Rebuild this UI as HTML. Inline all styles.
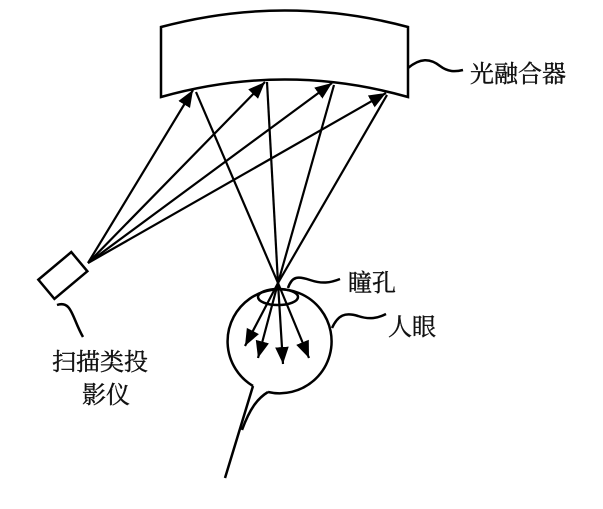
<!DOCTYPE html>
<html><head><meta charset="utf-8"><style>
body{margin:0;background:#fff;width:603px;height:504px;overflow:hidden}
text{font-family:"Liberation Serif","Noto Serif CJK SC",serif;font-size:24px;fill:#111;stroke:#111;stroke-width:0.4}
</style></head><body>
<svg width="603" height="504" viewBox="0 0 603 504">
<defs>
<marker id="b" viewBox="0 0 10 10" refX="10" refY="5" markerWidth="17" markerHeight="17" orient="auto" markerUnits="userSpaceOnUse"><path d="M0,1L10,5L0,9z" fill="#000"/></marker></defs>
<g fill="none" stroke="#000" stroke-width="2.5">
<path d="M161,27 Q285,-6 408,27 L408,97 Q285,62 161,97 Z"/>
<path d="M408,68 C420,58 430,58 440,66 C448,72 455,72 463,70"/>
<rect x="45" y="262" width="43" height="25" transform="rotate(-40 66 280)"/>
<path d="M57,305 C72,300 72,318 83,337"/>
<path d="M268,392 A52,52 0 1 0 253,386"/>
<ellipse cx="278" cy="297" rx="20" ry="8"/>
<path d="M288,288 C292,276 298,276 310,280 C322,284 330,283 340,279"/>
<path d="M332,328 C338,315 345,312 358,316 C370,320 378,318 386,314"/>
<path d="M253,386 L225,478 M268,392 C258,398 250,408 242,430"/>
<g stroke-width="2.2">
<line x1="88" y1="263" x2="193" y2="90" marker-end="url(#b)"/>
<line x1="88" y1="263" x2="265" y2="82" marker-end="url(#b)"/>
<line x1="88" y1="263" x2="332" y2="83" marker-end="url(#b)"/>
<line x1="88" y1="263" x2="386" y2="93" marker-end="url(#b)"/>
<line x1="196" y1="92" x2="278" y2="283"/>
<line x1="267" y1="82" x2="278" y2="283"/>
<line x1="334" y1="85" x2="278" y2="283"/>
<line x1="387" y1="95" x2="278" y2="283"/>
<line x1="278" y1="283" x2="245" y2="346" marker-end="url(#b)"/>
<line x1="278" y1="283" x2="258" y2="358" marker-end="url(#b)"/>
<line x1="278" y1="283" x2="283" y2="364" marker-end="url(#b)"/>
<line x1="278" y1="283" x2="309" y2="358" marker-end="url(#b)"/>
</g></g>
<text x="470" y="82">光融合器</text>
<text x="348" y="291">瞳孔</text>
<text x="388" y="335">人眼</text>
<text x="52" y="370">扫描类投</text>
<text x="82" y="403">影仪</text>
</svg></body></html>
